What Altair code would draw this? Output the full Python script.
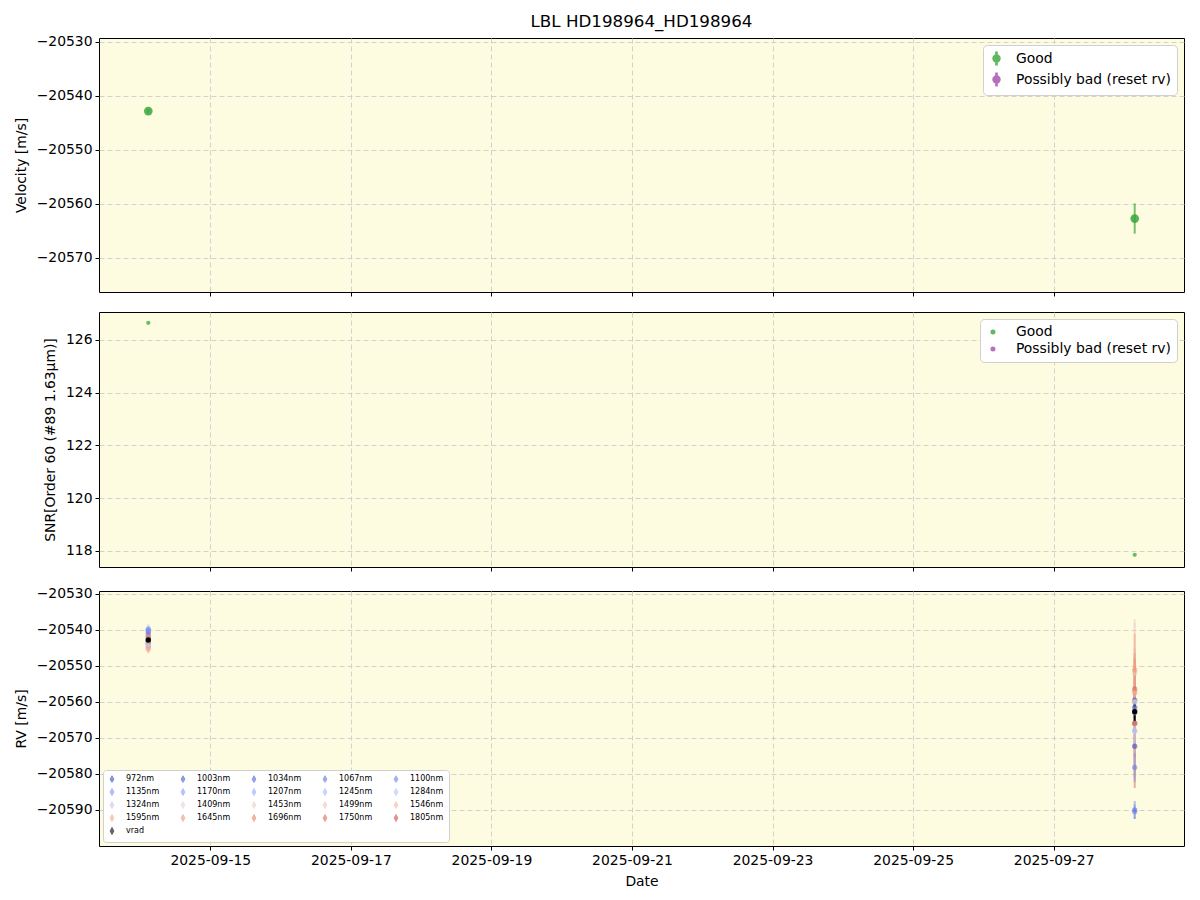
import altair as alt
import pandas as pd

# ---------------- data ----------------
dates = ["2025-09-14T02:50:00", "2025-09-28T03:40:00"]
velocity = [-20542.8, -20562.7]
velocity_err = [0.4, 2.8]
snr = [126.65, 117.85]
status = ["Good", "Good"]

wavelengths = ["972nm", "1003nm", "1034nm", "1067nm", "1100nm", "1135nm", "1170nm",
               "1207nm", "1245nm", "1284nm", "1324nm", "1409nm", "1453nm", "1499nm",
               "1546nm", "1595nm", "1645nm", "1696nm", "1750nm", "1805nm"]
rv_t1 = [-20543.5, -20544.0, -20542.0, -20540.5, -20540.0, -20541.0, -20543.0,
         -20544.5, -20540.0, -20539.6, -20542.0, -20543.0, -20544.0, -20545.0,
         -20544.5, -20545.3, -20542.0, -20541.5, -20542.5, -20543.0]
rv_t1_err = [0.8, 0.8, 0.8, 0.9, 0.9, 0.9, 1.0, 1.0, 1.1, 1.2, 1.3, 1.5, 1.6, 1.4,
             1.3, 1.2, 1.1, 1.0, 1.1, 1.2]
rv_t2 = [-20572.3, -20559.5, -20561.5, -20590.0, -20578.2, -20590.5, -20563.0,
         -20560.0, -20568.0, -20562.0, -20566.0, -20568.1, -20560.0, -20552.0,
         -20557.0, -20557.5, -20551.1, -20566.0, -20556.4, -20565.9]
rv_t2_err = [3.0, 3.0, 3.0, 2.5, 4.0, 2.0, 3.0, 4.0, 5.0, 8.0, 7.0, 10.0, 22.0, 15.0,
             12.0, 10.0, 10.0, 15.0, 10.0, 18.0]
vrad = velocity
vrad_err = velocity_err

wl_colors = ["#3b4cc0", "#4659cc", "#5366d8", "#6073e2", "#6d80eb", "#7a8ef3",
             "#879bf9", "#94a8fd", "#a2b5fe", "#b0c2fb", "#bdcbf5", "#ddd8d6",
             "#e6d2c8", "#efc6b4", "#f4b8a0", "#f4a78c", "#f39779", "#e98266",
             "#db6a54", "#cd5040"]

y_top_dom = [-20576.3, -20529.26]
y_mid_dom = [117.39, 127.06]
y_bot_dom = [-20600.0, -20529.2]
x_dom = [alt.DateTime(year=2025, month=9, date=13, hours=10),
         alt.DateTime(year=2025, month=9, date=28, hours=20, minutes=30)]
x_ticks = [alt.DateTime(year=2025, month=9, date=d) for d in [15, 17, 19, 21, 23, 25, 27]]

status_domain = ["Good", "Possibly bad (reset rv)"]
status_range = ["#3aa63a", "#a24ea8"]

# legend order (column-major reading of a 5-column legend)
leg_order = ["972nm", "1135nm", "1284nm", "1499nm", "1696nm",
             "1003nm", "1170nm", "1324nm", "1546nm", "1750nm",
             "1034nm", "1207nm", "1409nm", "1595nm", "1805nm",
             "1067nm", "1245nm", "1453nm", "1645nm", "vrad",
             "1100nm"]

# ---------------- tables ----------------
top_df = pd.DataFrame({
    "date": dates, "velocity": velocity,
    "lo": [v - e for v, e in zip(velocity, velocity_err)],
    "hi": [v + e for v, e in zip(velocity, velocity_err)],
    "status": status,
})
mid_df = pd.DataFrame({"date": dates, "snr": snr, "status": status})

series = {wl: [(dates[0], rv_t1[i], rv_t1_err[i]), (dates[1], rv_t2[i], rv_t2_err[i])]
          for i, wl in enumerate(wavelengths)}
series["vrad"] = list(zip(dates, vrad, vrad_err))
keys = [f"{i:02d}_{lab}" for i, lab in enumerate(leg_order)]
rows = []
for key, lab in zip(keys, leg_order):
    for d, v, e in series[lab]:
        rows.append({"date": d, "label": lab, "key": key, "rv": v, "lo": v - e, "hi": v + e})
rv_df = pd.DataFrame(rows)

cmap = dict(zip(wavelengths, wl_colors))
cmap["vrad"] = "#000000"
leg_range = [cmap[k] for k in leg_order]

W = 1085
EB_SYMBOL = "M-0.09,-1H0.09V1H-0.09Z M-0.55,0A0.55,0.55 0 1,1 0.55,0A0.55,0.55 0 1,1 -0.55,0Z"


def xenc(labels):
    return alt.X("date:T", scale=alt.Scale(domain=x_dom),
                 axis=alt.Axis(values=x_ticks, labels=labels, format="%Y-%m-%d",
                               title="Date" if labels else None))


# ---------------- top panel ----------------
top_scale = alt.Scale(domain=status_domain, range=status_range)
top_legend = alt.Legend(title=None, orient="top-right", symbolType=EB_SYMBOL,
                        symbolSize=160, symbolOpacity=0.8, labelFontSize=13.9,
                        fillColor="white", strokeColor="#d0d0d0", cornerRadius=4,
                        padding=6, offset=7, rowPadding=2, labelOffset=12,
                        labelLimit=300)
yt = alt.Y("velocity:Q", scale=alt.Scale(domain=y_top_dom, nice=False, zero=False),
           axis=alt.Axis(values=[-20570, -20560, -20550, -20540, -20530], format="d",
                         title="Velocity [m/s]"))
top_rules = alt.Chart(top_df).mark_rule(strokeWidth=2, opacity=0.7).encode(
    x=xenc(False),
    y=alt.Y("lo:Q", scale=alt.Scale(domain=y_top_dom, nice=False, zero=False)),
    y2="hi:Q",
    color=alt.Color("status:N", scale=top_scale, legend=top_legend),
)
top_pts = alt.Chart(top_df).mark_circle(size=75, opacity=0.85).encode(
    x=xenc(False), y=yt, color=alt.Color("status:N", scale=top_scale, legend=top_legend))
top = alt.layer(top_rules, top_pts).properties(
    width=W, height=254,
    title=alt.TitleParams("LBL HD198964_HD198964", fontSize=16.7, fontWeight="normal",
                          anchor="middle", frame="group", offset=4, color="black"))

# ---------------- middle panel ----------------
mid_color = alt.Color("status:N", scale=alt.Scale(domain=status_domain, range=status_range),
                      legend=alt.Legend(title=None, orient="top-right", symbolType="circle",
                                        symbolSize=25, symbolOpacity=0.8, labelFontSize=13.9,
                                        fillColor="white", strokeColor="#d0d0d0", cornerRadius=4,
                                        padding=6, offset=7, rowPadding=2, labelOffset=16,
                                        labelLimit=300))
mid = alt.Chart(mid_df).mark_circle(size=18, opacity=0.75).encode(
    x=xenc(False),
    y=alt.Y("snr:Q", scale=alt.Scale(domain=y_mid_dom, nice=False, zero=False),
            axis=alt.Axis(values=[118, 120, 122, 124, 126], format="d",
                          title="SNR[Order 60 (#89 1.63μm)]")),
    color=mid_color,
).properties(width=W, height=255)

# ---------------- bottom panel ----------------
ybot_scale = alt.Scale(domain=y_bot_dom, nice=False, zero=False)
bot_color = alt.Color("key:N", sort=keys,
                      scale=alt.Scale(domain=keys, range=leg_range),
                      legend=alt.Legend(title=None, orient="bottom-left", columns=5,
                                        labelExpr="substring(datum.label, 3)",
                                        symbolType=EB_SYMBOL, symbolSize=30, symbolOpacity=0.6,
                                        labelFontSize=8, fillColor="white", strokeColor="#d0d0d0",
                                        cornerRadius=3, padding=5, offset=4, rowPadding=1,
                                        columnPadding=18, labelOffset=10))
is_vrad = alt.datum.label == "vrad"
bot_rules = alt.Chart(rv_df).mark_rule(strokeWidth=2).encode(
    x=xenc(True), y=alt.Y("lo:Q", scale=ybot_scale), y2="hi:Q",
    color=bot_color,
    opacity=alt.condition(is_vrad, alt.value(1.0), alt.value(0.45)))
bot_pts = alt.Chart(rv_df).mark_circle(size=28).encode(
    x=xenc(True),
    y=alt.Y("rv:Q", scale=ybot_scale,
            axis=alt.Axis(values=[-20590, -20580, -20570, -20560, -20550, -20540, -20530],
                          format="d", title="RV [m/s]")),
    color=bot_color,
    opacity=alt.condition(is_vrad, alt.value(1.0), alt.value(0.6)))
bot = alt.layer(bot_rules, bot_pts).properties(width=W, height=255)

chart = alt.vconcat(top, mid, bot, spacing=14).resolve_scale(
    color="independent").resolve_legend(color="independent").configure(
    font="DejaVu Sans", background="white"
).configure_view(
    stroke="black", strokeWidth=1, fill="#fdfce1"
).configure_axis(
    domain=False, tickColor="black", tickSize=4, labelColor="black", labelFontSize=13.9,
    titleColor="black", titleFontSize=13.9, titleFontWeight="normal",
    gridColor="#cccccc", gridDash=[5, 3], gridWidth=0.9, labelPadding=3, titlePadding=8,
    labelFont="DejaVu Sans", titleFont="DejaVu Sans"
)

chart.save("out.html", embed_options={"renderer": "svg", "actions": False})
